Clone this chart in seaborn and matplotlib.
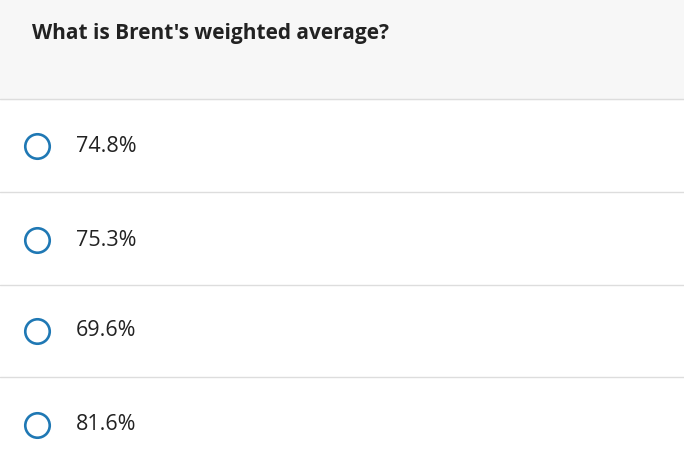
import matplotlib
matplotlib.use("Agg")
import matplotlib.pyplot as plt
import seaborn as sns
import pandas as pd

question = "What is Brent's weighted average?"
options = ["74.8%", "75.3%", "69.6%", "81.6%"]
row_centers = [146, 240, 331, 425]
separators = [99, 192, 285, 377]

sns.set_theme(style="white")
plt.rcParams['font.family'] = ['Open Sans', 'DejaVu Sans']

fig = plt.figure(figsize=(6.84, 4.62), dpi=100)
ax = fig.add_axes([0, 0, 1, 1])
ax.set_xlim(0, 684)
ax.set_ylim(462, 0)
ax.axis("off")

ax.axhspan(0, 99, color="#f7f7f7", zorder=0)
for y in separators:
    ax.axhline(y, color="#dddddd", lw=1, zorder=1)

ax.text(32, 33, question, fontsize=15, fontweight="bold", color="#222222", va="center", ha="left")

df = pd.DataFrame({"x": [37] * len(options), "y": row_centers, "label": options})
sns.scatterplot(data=df, x="x", y="y", ax=ax, s=310, marker="o",
                facecolor="white", edgecolor="#1f78b4", linewidth=1.9, zorder=3, legend=False)
for _, r in df.iterrows():
    ax.text(76, r["y"], r["label"], fontsize=15.5, color="#222222", va="center", ha="left")
ax.set_xlabel(""); ax.set_ylabel("")
ax.set_xlim(0, 684); ax.set_ylim(462, 0)

fig.savefig("out.png", dpi=100)
